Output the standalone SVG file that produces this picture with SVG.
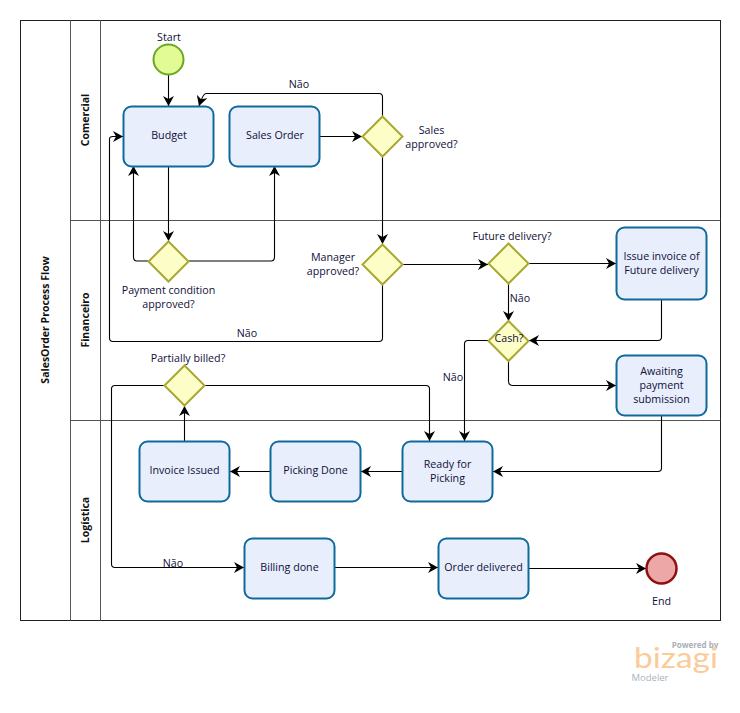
<svg xmlns="http://www.w3.org/2000/svg" width="740" height="713" viewBox="0 0 740 713">
<style>
text{font-family:"Open Sans","Noto Sans","Liberation Sans",sans-serif;font-size:10.700px;fill:#10103a;text-anchor:middle}
.hd{font-weight:700;fill:#111;font-size:10.500px}
.pool{fill:#fff;stroke:#222;stroke-width:1}
.lane{fill:none;stroke:#555;stroke-width:1}
.task{fill:#e9eefc;stroke:#0f6a9b;stroke-width:2}
.gw{fill:#fdfdc8;stroke:#a8a832;stroke-width:2}
.c{fill:none;stroke:#000;stroke-width:1.100;marker-end:url(#a)}
</style>
<defs>
<marker id="a" markerUnits="userSpaceOnUse" markerWidth="12" markerHeight="12" refX="10" refY="5.500" orient="auto">
<path d="M0 0L10 5.500L0 11L3 5.500Z" fill="#000"/>
</marker>
</defs>
<g id="pool">
<rect class="pool" x="20.500" y="20.500" width="700" height="600"/>
<path class="lane" d="M70.500 20.500V620.500M100.500 20.500V620.500M70.500 220.500H720.500M70.500 420.500H720.500"/>
<text class="hd" transform="translate(49 320) rotate(-90)">SalesOrder Process Flow</text>
<text class="hd" transform="translate(89 120) rotate(-90)">Comercial</text>
<text class="hd" transform="translate(89 320) rotate(-90)">Financeiro</text>
<text class="hd" transform="translate(89 520) rotate(-90)">Logística</text>
</g>
<g id="connectors">
<path class="c" d="M168.500 74V106"/>
<path class="c" d="M168.500 166V241"/>
<path class="c" d="M148 261H137Q133.500 261 133.500 257V166"/>
<path class="c" d="M189 261H271Q274.500 261 274.500 257V166"/>
<path class="c" d="M320 136.500H362"/>
<path class="c" d="M382.500 116V97Q382.500 93.500 379 93.500H206Q203 93.500 199 106"/>
<path class="c" d="M382.500 157V244"/>
<path class="c" d="M382.500 285V338Q382.500 341.500 379 341.500H113Q109.500 341.500 109.500 338V139Q109.500 136.500 113 136.500H123"/>
<path class="c" d="M403 264.500H488"/>
<path class="c" d="M529 263.500H616"/>
<path class="c" d="M508.500 284V321"/>
<path class="c" d="M661.500 299V337Q661.500 340.500 658 340.500H529"/>
<path class="c" d="M508.500 361V381Q508.500 385.500 513 385.500H616"/>
<path class="c" d="M488 340.500H468Q464.500 340.500 464.500 344V441"/>
<path class="c" d="M661.500 416V468Q661.500 471.500 658 471.500H493"/>
<path class="c" d="M402 471.500H361"/>
<path class="c" d="M270 471.500H230"/>
<path class="c" d="M184.500 441V406"/>
<path class="c" d="M205 385.500H426Q429.500 385.500 429.500 389V441"/>
<path class="c" d="M164 385.500H115Q111.500 385.500 111.500 389V564Q111.500 567.500 115 567.500H244"/>
<path class="c" d="M335 567.500H438"/>
<path class="c" d="M529 568.500H646"/>
</g>
<g id="start"><circle cx="168.500" cy="59.500" r="15" fill="#e2fb95" stroke="#6aa820" stroke-width="2"/><text x="169" y="41">Start</text></g>
<g id="budget"><rect class="task" x="123.500" y="106.500" width="90" height="60" rx="8"/><text x="169" y="139">Budget</text></g>
<g id="sales-order"><rect class="task" x="229.500" y="106.500" width="90" height="60" rx="8"/><text x="275" y="139">Sales Order</text></g>
<g id="sales-approved"><path class="gw" d="M382.500 116.500L402.500 136.500L382.500 156.500L362.500 136.500Z"/><text x="431.500" y="134">Sales</text><text x="431.500" y="148">approved?</text></g>
<g id="payment-condition"><path class="gw" d="M168.500 241.500L188.500 261.500L168.500 281.500L148.500 261.500Z"/><text x="168.500" y="294">Payment condition</text><text x="168.500" y="308">approved?</text></g>
<g id="manager-approved"><path class="gw" d="M382.500 244.500L402.500 264.500L382.500 284.500L362.500 264.500Z"/><text x="333" y="261">Manager</text><text x="333" y="275">approved?</text></g>
<g id="future-delivery"><path class="gw" d="M508.500 243.500L528.500 263.500L508.500 283.500L488.500 263.500Z"/><text x="512" y="240">Future delivery?</text></g>
<g id="issue-invoice"><rect class="task" x="616.500" y="227.500" width="90" height="72" rx="8"/><text x="661.500" y="260">Issue invoice of</text><text x="661.500" y="274">Future delivery</text></g>
<g id="cash"><path class="gw" d="M508.500 321L528.500 341L508.500 361L488.500 341Z"/><text x="509" y="342">Cash?</text></g>
<g id="awaiting-payment"><rect class="task" x="616.500" y="355.500" width="90" height="60" rx="8"/><text x="661.500" y="375">Awaiting</text><text x="661.500" y="389">payment</text><text x="661.500" y="403">submission</text></g>
<g id="partially-billed"><path class="gw" d="M184.500 365.500L204.500 385.500L184.500 405.500L164.500 385.500Z"/><text x="188" y="362">Partially billed?</text></g>
<g id="ready-for-picking"><rect class="task" x="402.500" y="441.500" width="90" height="60" rx="8"/><text x="447.500" y="468">Ready for</text><text x="447.500" y="482">Picking</text></g>
<g id="picking-done"><rect class="task" x="270.500" y="441.500" width="90" height="60" rx="8"/><text x="315.500" y="474">Picking Done</text></g>
<g id="invoice-issued"><rect class="task" x="139.500" y="441.500" width="90" height="60" rx="8"/><text x="184.500" y="474">Invoice Issued</text></g>
<g id="billing-done"><rect class="task" x="244.500" y="538.500" width="90" height="60" rx="8"/><text x="289.500" y="571">Billing done</text></g>
<g id="order-delivered"><rect class="task" x="438.500" y="538.500" width="90" height="60" rx="8"/><text x="483.500" y="571">Order delivered</text></g>
<g id="end"><circle cx="661.500" cy="568.500" r="15" fill="#eea7a7" stroke="#8e1111" stroke-width="2.500"/><text x="661.500" y="605">End</text></g>
<g id="labels">
<text x="299" y="88">Não</text>
<text x="247" y="337">Não</text>
<text x="520" y="302">Não</text>
<text x="453" y="381">Não</text>
<text x="173" y="567">Não</text>
</g>
<g id="logo">
<text x="695" y="648" style="font-size:8px;font-weight:700;fill:#a8b0b8">Powered by</text>
<text x="676" y="668" textLength="84" lengthAdjust="spacingAndGlyphs" style="font-family:'Lato','Open Sans',sans-serif;font-size:28px;fill:#fbcb9a">bizagi</text>
<text x="650" y="681" style="font-size:9.500px;fill:#a8b4bd">Modeler</text>
</g>
</svg>
